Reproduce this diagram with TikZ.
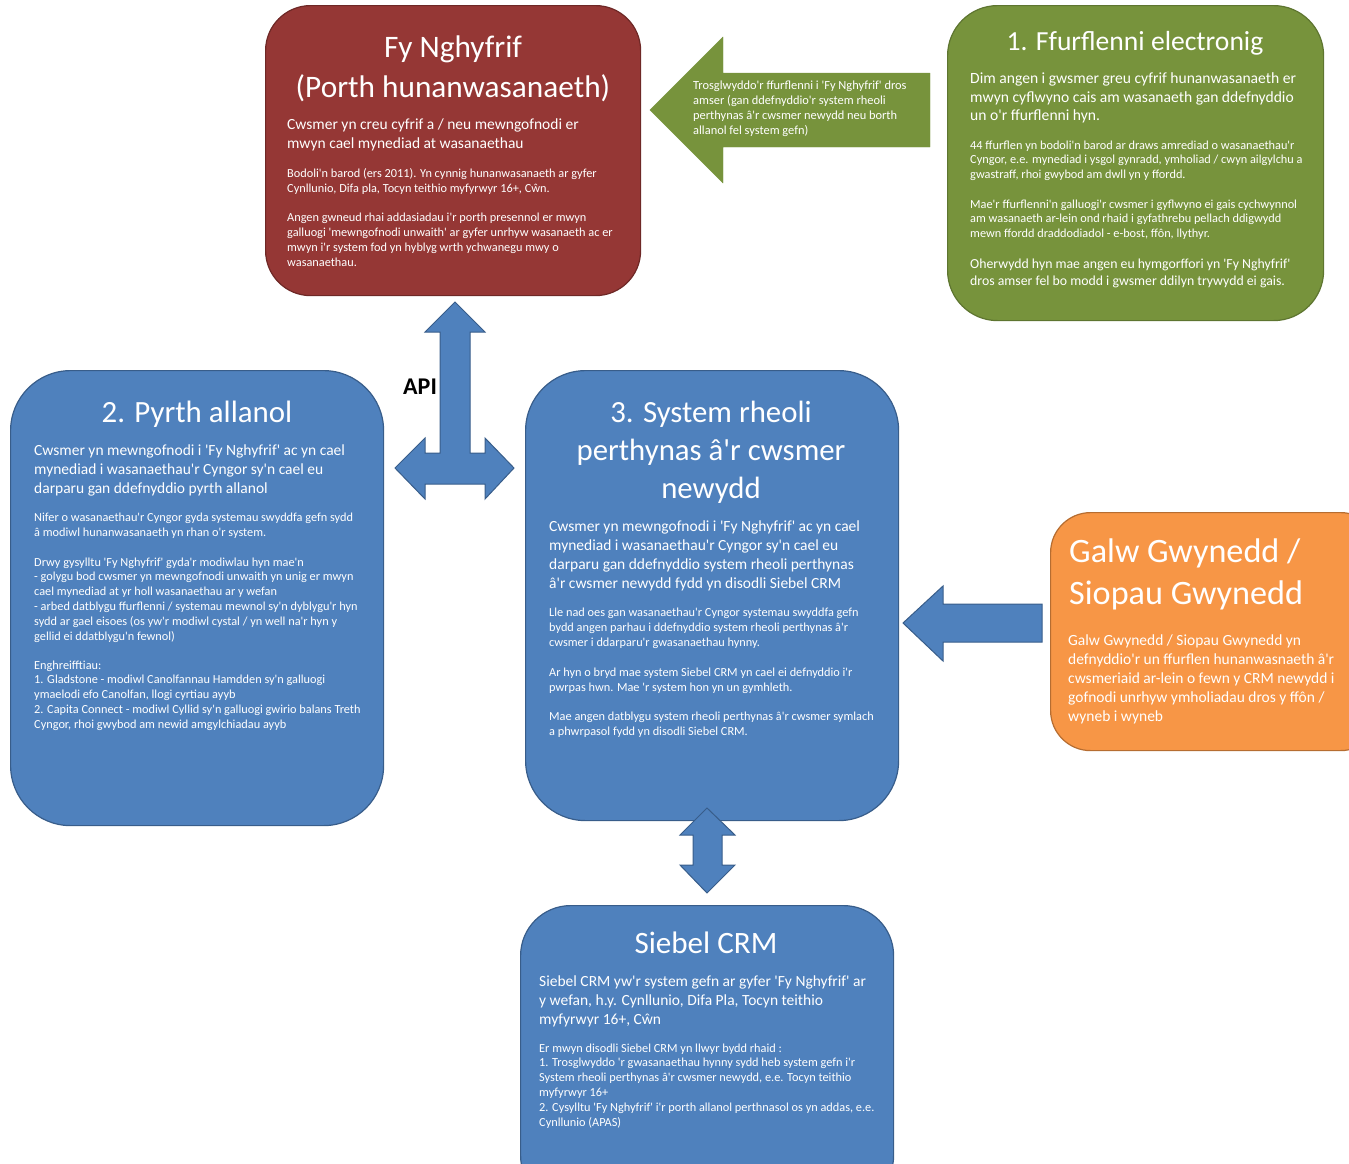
\documentclass[tikz,border=0pt]{standalone}
\usepackage{fontspec}
\setmainfont{Carlito}[Ligatures=TeXOff]
\definecolor{redf}{HTML}{953735}
\definecolor{redd}{HTML}{6E2826}
\definecolor{greenf}{HTML}{77933C}
\definecolor{greend}{HTML}{5E7530}
\definecolor{bluef}{HTML}{4F81BD}
\definecolor{blued}{HTML}{385D8A}
\definecolor{orangef}{HTML}{F79646}
\definecolor{oranged}{HTML}{B66D31}
\tikzset{
  box/.style={draw, line width=1.2pt, anchor=north west, inner sep=0pt},
  blockarrow/.style={fill=bluef, draw=blued, line width=1pt, line join=miter},
  txt/.style={text=white, align=left, inner sep=0pt, anchor=base west},
  med/.style={txt, font=\fontsize{15.5}{19}\selectfont},
  sml/.style={txt, font=\fontsize{12.3}{14.8}\selectfont},
  ttl/.style={text=white, align=center, inner sep=0pt, anchor=base},
}
\begin{document}
\begin{tikzpicture}[x=1pt,y=-1pt]
\useasboundingbox (0,0) rectangle (1349,1163);
\clip (0,0) rectangle (1349,1163);

% boxes
\node[box, fill=redf, draw=redd, rounded corners=45pt, minimum width=375pt, minimum height=290pt] (fy) at (265,5) {};
\node[box, fill=greenf, draw=greend, rounded corners=50pt, minimum width=376pt, minimum height=315pt] (ff) at (947,5) {};
\node[box, fill=bluef, draw=blued, rounded corners=60pt, minimum width=373pt, minimum height=455pt] (py) at (10,370) {};
\node[box, fill=bluef, draw=blued, rounded corners=60pt, minimum width=373pt, minimum height=450pt] (sr) at (525,370) {};
\node[box, fill=orangef, draw=oranged, rounded corners=40pt, minimum width=330pt, minimum height=238pt] (gw) at (1050,512) {};
\node[box, fill=bluef, draw=blued, rounded corners=50pt, minimum width=373pt, minimum height=300pt] (sb) at (520,905) {};

% arrows
\draw[fill=greenf, draw=greenf, line join=miter] (650,110) -- (723,37) -- (723,73) -- (930,73) -- (930,147) -- (723,147) -- (723,183) -- cycle;
\draw[blockarrow] (455,302) -- (485,332) -- (470,332) -- (470,453) -- (485,453) -- (485,438) -- (514,468) -- (485,499) -- (485,484) -- (425,484) -- (425,499) -- (395,468) -- (425,438) -- (425,453) -- (440,453) -- (440,332) -- (425,332) -- cycle;
\draw[blockarrow] (707,808) -- (735,835) -- (722,835) -- (722,865) -- (735,865) -- (707,893) -- (680,865) -- (693,865) -- (693,835) -- (680,835) -- cycle;
\draw[blockarrow] (903,623) -- (943,586) -- (943,604) -- (1042,604) -- (1042,642) -- (943,642) -- (943,661) -- cycle;
\node[anchor=base west, inner sep=0pt, font=\fontsize{24}{26}\selectfont\bfseries] (api) at (403,394) {API};

% red box text
\node[ttl, font=\fontsize{31.3}{40}\selectfont] (fyt) at (453,97) {Fy Nghyfrif\\(Porth hunanwasanaeth)};
\node[med] (fy1) at (287,148.5) {Cwsmer yn creu cyfrif a / neu mewngofnodi er\\mwyn cael mynediad at wasanaethau};
\node[sml, font=\fontsize{12.3}{15}\selectfont] (fy2) at (287,192) {Bodoli'n barod  (ers 2011). Yn cynnig hunanwasanaeth ar gyfer\\Cynllunio, Difa pla, Tocyn teithio myfyrwyr 16+, Cŵn.};
\node[sml, font=\fontsize{12.3}{15}\selectfont] (fy3) at (287,266) {Angen gwneud rhai addasiadau  i'r porth presennol er mwyn\\galluogi 'mewngofnodi unwaith' ar gyfer unrhyw wasanaeth ac er\\mwyn i'r system fod yn hyblyg wrth ychwanegu mwy o\\wasanaethau.};

% green arrow text
\node[txt, font=\fontsize{12.4}{14.7}\selectfont] (tr) at (693,134) {Trosglwyddo'r ffurflenni  i 'Fy Nghyfrif' dros\\amser  (gan ddefnyddio'r system rheoli\\perthynas â'r cwsmer newydd neu borth\\allanol fel system gefn)};

% green box text
\node[ttl, font=\fontsize{27.6}{32}\selectfont] (fft) at (1135,50) {1. Ffurflenni electronig};
\node[txt, font=\fontsize{15.6}{18.7}\selectfont] (ff1) at (970,120.9) {Dim angen i gwsmer greu cyfrif hunanwasanaeth er\\mwyn cyflwyno cais am wasanaeth gan ddefnyddio\\un o'r ffurflenni hyn.};
\node[txt, font=\fontsize{12.3}{14.5}\selectfont] (ff2) at (970,178) {44 ffurflen yn bodoli'n barod  ar draws amrediad o wasanaethau'r\\Cyngor, e.e. mynediad i ysgol gynradd, ymholiad / cwyn ailgylchu a\\gwastraff, rhoi gwybod am dwll yn y ffordd.};
\node[txt, font=\fontsize{12.3}{14.5}\selectfont] (ff3) at (970,237) {Mae'r ffurflenni'n  galluogi'r cwsmer i gyflwyno ei gais cychwynnol\\am wasanaeth ar-lein ond rhaid i gyfathrebu pellach ddigwydd\\mewn ffordd draddodiadol - e-bost, ffôn, llythyr.};
\node[txt, font=\fontsize{13.8}{17}\selectfont] (ff4) at (970,285.5) {Oherwydd  hyn mae angen eu hymgorffori  yn 'Fy Nghyfrif'\\dros amser  fel bo modd i gwsmer ddilyn trywydd ei gais.};

% left box text
\node[ttl, font=\fontsize{30.9}{36}\selectfont] (pyt) at (197,422) {2. Pyrth allanol};
\node[med] (py1) at (34,493.5) {Cwsmer yn mewngofnodi i 'Fy Nghyfrif' ac yn cael\\mynediad i wasanaethau'r Cyngor sy'n cael eu\\darparu gan ddefnyddio pyrth allanol};
\node[sml] (py2) at (34,536) {Nifer o wasanaethau'r Cyngor gyda systemau swyddfa gefn sydd\\â  modiwl hunanwasanaeth yn rhan o'r system.};
\node[sml] (py3) at (34,640) {Drwy gysylltu  'Fy Nghyfrif' gyda'r modiwlau hyn mae'n\\- golygu bod cwsmer yn mewngofnodi unwaith yn unig er mwyn\\cael mynediad at yr holl wasanaethau ar y wefan\\- arbed datblygu ffurflenni / systemau mewnol sy'n dyblygu'r hyn\\sydd ar gael eisoes (os yw'r modiwl cystal / yn well na'r hyn y\\gellid ei ddatblygu'n fewnol)};
\node[sml] (py4) at (34,728.2) {Enghreifftiau:\\1. Gladstone - modiwl Canolfannau Hamdden sy'n galluogi\\ymaelodi efo Canolfan, llogi cyrtiau ayyb\\2. Capita Connect - modiwl Cyllid sy'n galluogi gwirio balans Treth\\Cyngor, rhoi gwybod am newid amgylchiadau ayyb};

% center box text
\node[ttl, font=\fontsize{30.8}{38}\selectfont] (srt) at (711,498) {3. System rheoli\\perthynas â'r cwsmer\\newydd};
\node[med] (sr1) at (549,588.5) {Cwsmer yn mewngofnodi i 'Fy Nghyfrif' ac yn cael\\mynediad i wasanaethau'r Cyngor sy'n cael eu\\darparu gan ddefnyddio system rheoli perthynas\\â'r cwsmer newydd fydd yn disodli Siebel CRM};
\node[sml] (sr2) at (549,646) {Lle nad oes gan wasanaethau'r Cyngor systemau swyddfa gefn\\bydd angen parhau i ddefnyddio system rheoli  perthynas â'r\\cwsmer  i ddarparu'r gwasanaethau hynny.};
\node[sml] (sr3) at (549,691) {Ar hyn o bryd mae  system Siebel CRM yn cael ei defnyddio i'r\\pwrpas hwn. Mae 'r system hon yn un gymhleth.};
\node[sml] (sr4) at (549,735) {Mae angen datblygu system rheoli  perthynas â'r cwsmer symlach\\a phwrpasol fydd yn disodli Siebel  CRM.};

% orange box text
\node[txt, font=\fontsize{34.2}{42}\selectfont] (gwt) at (1069,604) {Galw Gwynedd /\\Siopau Gwynedd};
\node[med] (gw1) at (1068,721.5) {Galw Gwynedd / Siopau Gwynedd yn\\defnyddio'r un ffurflen hunanwasnaeth â'r\\cwsmeriaid ar-lein o fewn y CRM newydd i\\gofnodi unrhyw ymholiadau dros y ffôn  /\\wyneb i wyneb};

% bottom box text
\node[ttl, font=\fontsize{31.1}{36}\selectfont] (sbt) at (706,953) {Siebel CRM};
\node[med] (sb1) at (539,1024.5) {Siebel CRM yw'r system gefn ar gyfer 'Fy Nghyfrif' ar\\y wefan, h.y. Cynllunio, Difa Pla, Tocyn teithio\\myfyrwyr 16+, Cŵn};
\node[sml] (sb2) at (539,1126) {Er mwyn disodli Siebel CRM yn llwyr bydd rhaid :\\1. Trosglwyddo 'r gwasanaethau hynny sydd heb system gefn i'r\\System rheoli  perthynas â'r cwsmer newydd, e.e. Tocyn teithio\\myfyrwyr 16+\\2. Cysylltu 'Fy Nghyfrif' i'r  porth allanol perthnasol  os yn addas, e.e.\\Cynllunio (APAS)};
\end{tikzpicture}
\end{document}
